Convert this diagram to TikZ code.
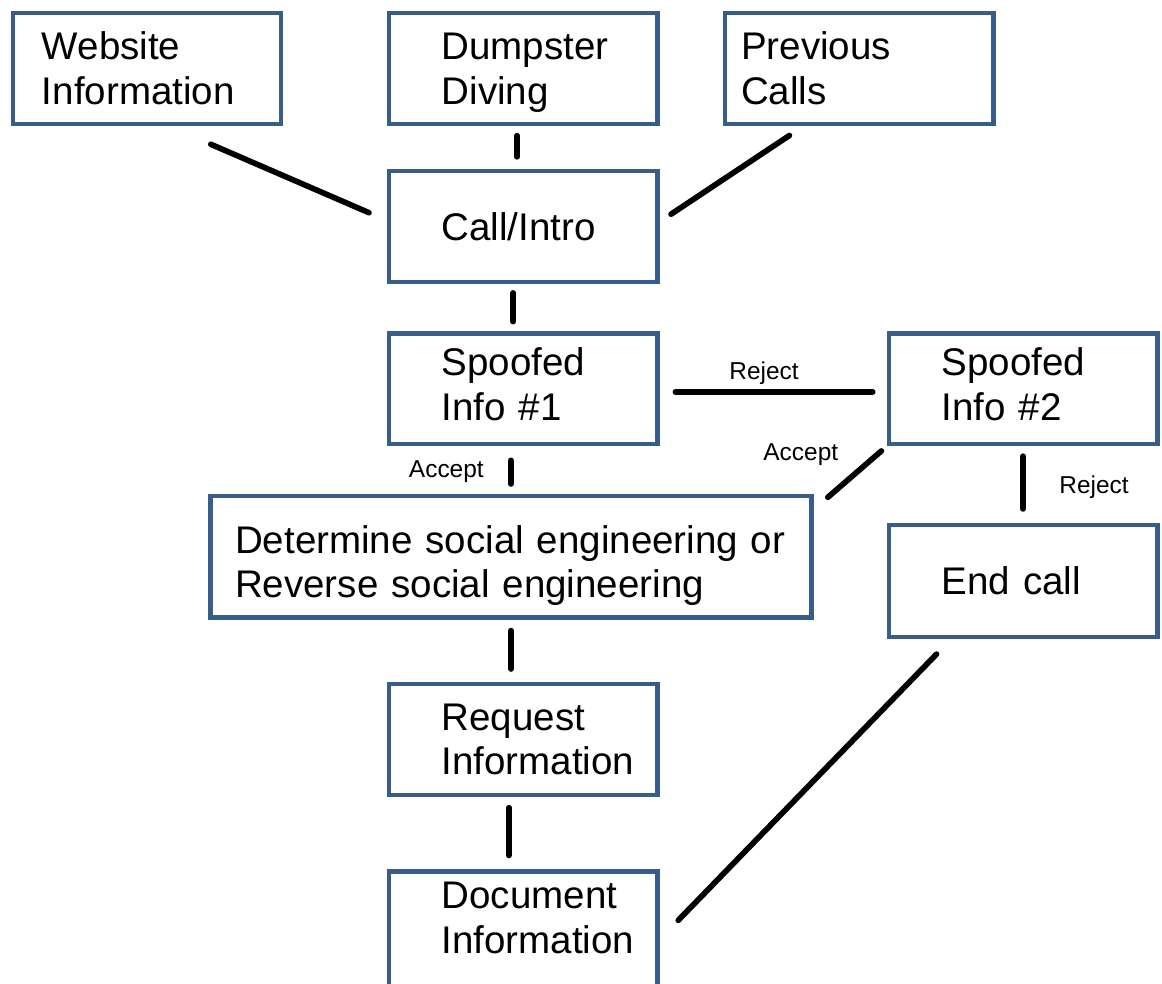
\documentclass[tikz,border=0pt]{standalone}
\usepackage{fontspec}
\setmainfont{Liberation Sans}
\usetikzlibrary{positioning}
\definecolor{boxblue}{RGB}{56,93,138}

\begin{document}
\begin{tikzpicture}
    [
        on grid,
        blue_box/.style={rectangle, draw=boxblue, line width=1.1mm, inner xsep=0mm, minimum width=71.1mm, minimum height=29.3mm, text width=43.1mm, align=left, text depth=11.9mm, font=\fontsize{29}{33.75}\selectfont},
        link/.style={draw=black, line width=1.5mm, line cap=round},
        edge_label/.style={font=\fontsize{18.4}{22}\selectfont},
    ]
        \useasboundingbox (0,0) rectangle (307.45mm,-260.09mm);
        \node[blue_box] (dumpster) at (138.4mm,-18.1mm) {Dumpster\\Diving} ;
        \node[blue_box, text width=55.6mm] (website) [left = 99.5mm of dumpster] {Website\\Information} ;
        \node[blue_box, text width=62.4mm] (previous) [right = 88.9mm of dumpster] {Previous\\Calls} ;
        \node[blue_box, text depth=0mm] (call) [below = 41.8mm of dumpster] {Call/Intro} ;
        \node[blue_box, text depth=14.5mm] (spoofed1) [below = 43mm of call] {Spoofed\\Info \#1} ;
        \node[blue_box, text depth=14.5mm] (spoofed2) [right = 132.3mm of spoofed1] {Spoofed\\Info \#2} ;
        \node[blue_box, minimum width=159mm, minimum height=32.2mm, text width=146mm, text depth=9.3mm, xshift=-3.2mm] (determine) [below = 44.4mm of spoofed1] {Determine social engineering or\\Reverse social engineering} ;
        \node[blue_box, minimum height=29.6mm, text depth=0mm] (endcall) [below = 50.8mm of spoofed2] {End call} ;
        \node[blue_box, xshift=3.2mm] (request) [below = 48.3mm of determine] {Request\\Information} ;
        \node[blue_box, minimum height=32mm, text depth=19.3mm] (document) [below = 51mm of request] {Document\\Information} ;
        \draw[link, shorten <=12.3mm, shorten >=5.1mm] ([xshift=5.6mm]website.south) -- ([yshift=1.6mm]call.west) ;
        \draw[link, shorten <=2.6mm, shorten >=3.2mm] ([xshift=-1.6mm]dumpster.south) -- ([xshift=-1.6mm]call.north) ;
        \draw[link, shorten <=4.6mm, shorten >=3.65mm] ([xshift=-14.6mm]previous.south) -- ([yshift=1.2mm]call.east) ;
        \draw[link, shorten <=2.4mm, shorten >=2.6mm] ([xshift=-2.6mm]call.south) -- ([xshift=-2.6mm]spoofed1.north) ;
        \draw[link, shorten <=4.2mm, shorten >=3.7mm] ([yshift=-0.8mm]spoofed1.east) -- ([yshift=-0.8mm]spoofed2.west) node[edge_label, above, pos=0.46] (reject1) {Reject} ;
        \draw[link, shorten <=3.7mm, shorten >=2.6mm] (determine.north |- spoofed1.south) -- (determine.north) node[edge_label, left=5.3mm, pos=0.54] (accept1) {Accept} ;
        \draw[link, shorten <=1.85mm, shorten >=5mm] (spoofed2.south west) -- ([yshift=-4.2mm]determine.north east) node[edge_label, left=8.4mm, pos=0.13] (accept2) {Accept} ;
        \draw[link, shorten <=2.6mm, shorten >=3.7mm] (spoofed2.south) -- (endcall.north) node[edge_label, right=7.7mm, pos=0.53] (reject2) {Reject} ;
        \draw[link, shorten <=2.9mm, shorten >=3.4mm] (determine.south) -- (determine.south |- request.north) ;
        \draw[link, shorten <=2.9mm, shorten >=3.7mm] ([xshift=-3.8mm]request.south) -- ([xshift=-3.8mm]document.north) ;
        \draw[link, shorten <=5.6mm, shorten >=7.1mm] ([xshift=-19mm]endcall.south) -- ([yshift=-2mm]document.east) ;
    \end{tikzpicture}
\end{document}
